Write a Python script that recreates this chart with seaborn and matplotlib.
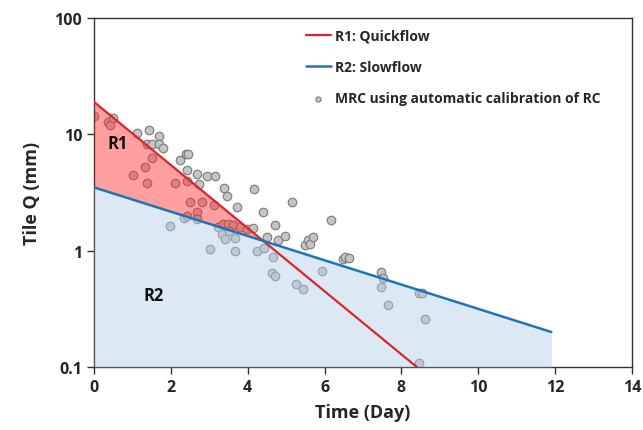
import numpy as np
import pandas as pd
import seaborn as sns
import matplotlib
matplotlib.use("Agg")
import matplotlib.pyplot as plt

# ---- data ----
mrc_time = [0.01, 0.37, 0.42, 0.50, 1.11, 1.43, 1.37, 1.50, 1.69, 1.69, 1.80, 1.51,
            1.34, 1.02, 1.39, 2.23, 2.39, 2.45, 2.41, 2.67, 2.41, 2.12, 2.73, 2.94,
            3.16, 3.38, 3.45, 4.16, 5.16, 2.49, 2.80, 3.12, 2.67, 3.72, 4.40, 1.99,
            2.35, 2.41, 2.69, 3.23, 3.36, 3.49, 3.62, 3.79, 3.97, 4.14, 3.34, 3.40,
            3.66, 3.51, 3.01, 3.68, 4.70, 4.49, 4.79, 4.96, 4.23, 4.42, 4.66, 4.64,
            4.70, 5.48, 5.57, 5.62, 5.71, 5.94, 5.25, 5.43, 6.17, 6.48, 6.52, 6.63,
            7.47, 7.53, 7.47, 7.65, 8.47, 8.54, 8.62, 8.47]
mrc_q = [14.5, 12.7, 12.1, 13.8, 10.2, 11.0, 8.3, 8.2, 9.6, 8.2, 7.7, 6.2,
         5.2, 4.5, 3.8, 6.0, 6.8, 6.8, 4.9, 4.6, 4.0, 3.8, 3.76, 4.35,
         4.35, 3.45, 2.93, 3.36, 2.62, 2.62, 2.62, 2.45, 2.15, 2.37, 2.17, 1.63,
         1.92, 1.98, 1.86, 1.60, 1.71, 1.71, 1.67, 1.60, 1.55, 1.57, 1.40, 1.25,
         1.29, 1.49, 1.03, 1.00, 1.67, 1.31, 1.23, 1.35, 0.99, 1.06, 0.88, 0.64,
         0.61, 1.12, 1.23, 1.14, 1.31, 0.67, 0.52, 0.47, 1.82, 0.85, 0.89, 0.86,
         0.65, 0.58, 0.49, 0.34, 0.435, 0.435, 0.26, 0.109]

quick_time = [0.0, 8.4]
quick_q = [19.0, 0.1]
slow_time = [0.0, 11.9]
slow_q = [3.5, 0.2]

x_ticks = [0, 2, 4, 6, 8, 10, 12, 14]
y_ticks = [0.1, 1, 10, 100]
y_ticklabels = ["0.1", "1", "10", "100"]

# ---- plot ----
sns.set_theme(style="ticks")
plt.rcParams['font.family'] = ['Open Sans', 'DejaVu Sans']

fig = plt.figure(figsize=(6.43, 4.31), dpi=100)
ax = fig.add_axes([94/643, 1-368/431, (632-94)/643, (368-19)/431])

df = pd.DataFrame({"t": mrc_time, "q": mrc_q})
red = "#d9262b"
blue = "#1f74b8"

sns.scatterplot(data=df, x="t", y="q", ax=ax, color="#c4c4c4", edgecolor="#7a7a7a",
                linewidth=0.8, s=38, zorder=2, label="MRC using automatic calibration of RC")
sns.lineplot(x=quick_time, y=quick_q, ax=ax, color=red, linewidth=1.6, zorder=5,
             label="R1: Quickflow")
sns.lineplot(x=slow_time, y=slow_q, ax=ax, color=blue, linewidth=1.8, zorder=5,
             label="R2: Slowflow")
ax.set_yscale("log")

# intersection in log space
lq = np.log10(quick_q); ls = np.log10(slow_q)
kq = (lq[1]-lq[0])/(quick_time[1]-quick_time[0])
ks = (ls[1]-ls[0])/(slow_time[1]-slow_time[0])
xi = (ls[0]-lq[0])/(kq-ks)
yi = 10**(lq[0]+kq*xi)

ax.fill_between([0, xi], [slow_q[0], yi], [quick_q[0], yi], color="#ff2a2a",
                alpha=0.45, linewidth=0, zorder=3)
ax.fill_between(slow_time, slow_q, [0.1, 0.1], color="#b5cdea",
                alpha=0.45, linewidth=0, zorder=3)

ax.set_xlim(0, 14)
ax.set_ylim(0.1, 100)
ax.set_xticks(x_ticks)
ax.set_xticklabels([str(v) for v in x_ticks])
ax.set_yticks(y_ticks)
ax.set_yticklabels(y_ticklabels)
ax.yaxis.set_minor_locator(matplotlib.ticker.NullLocator())
ax.tick_params(axis="both", direction="out", length=5, width=1, color="#333333",
               labelsize=11.5)
for lab in ax.get_xticklabels() + ax.get_yticklabels():
    lab.set_fontweight("bold")
for sp in ax.spines.values():
    sp.set_color("#333333")
    sp.set_linewidth(1.0)

ax.set_xlabel("Time (Day)", fontsize=13, fontweight="bold", labelpad=6)
ax.set_ylabel("Tile Q (mm)", fontsize=13, fontweight="bold", labelpad=10)

ax.text(0.35, 7.6, "R1", fontsize=12, fontweight="bold", color="#111111", zorder=6)
ax.text(1.3, 0.38, "R2", fontsize=12, fontweight="bold", color="#111111", zorder=6)

handles, labels = ax.get_legend_handles_labels()
order = [labels.index("R1: Quickflow"), labels.index("R2: Slowflow"),
         labels.index("MRC using automatic calibration of RC")]
leg = ax.legend([handles[i] for i in order], [labels[i] for i in order],
                loc="upper left", bbox_to_anchor=(0.37, 1.005), frameon=False,
                handlelength=1.8, handletextpad=0.3, labelspacing=1.25,
                markerscale=0.6,
                prop={"weight": "bold", "size": 10})

fig.savefig("out.png", dpi=100)
